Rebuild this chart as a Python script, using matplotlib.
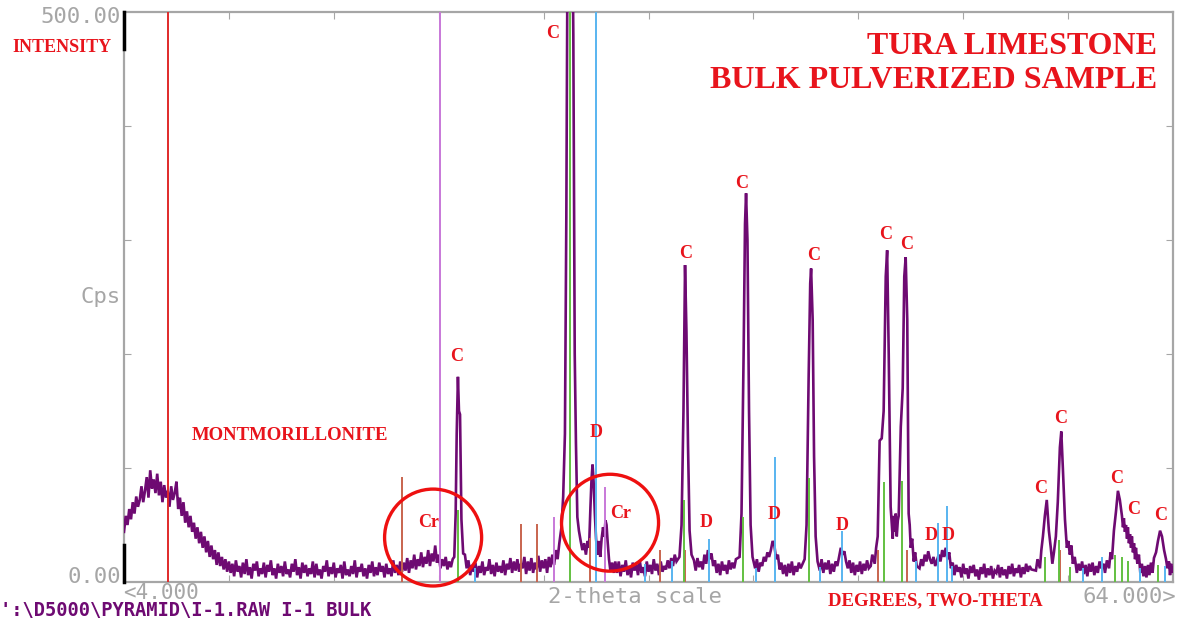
import numpy as np
import matplotlib
matplotlib.use("Agg")
import matplotlib.pyplot as plt
from matplotlib.patches import Ellipse

W, H = 1182, 621

# ---- measured trace (two-theta deg, cps) ----
# noisy background stretches, read every 0.1 deg
bg_a_start = 4.0
bg_a = [44, 58, 50, 64, 55, 70, 60, 75, 66, 72,
        84, 70, 80, 92, 74, 98, 82, 90, 78, 95,
        76, 88, 70, 85, 74, 80, 66, 84, 72, 78,
        88, 64, 74, 58, 70, 52, 62, 48, 58, 44,
        52, 38, 48, 34, 44, 30, 40, 26, 36, 22,
        32, 20, 28, 15, 26, 14, 22, 11, 20, 9,
        18, 8, 16, 5, 19, 9, 14, 4, 17, 7,
        20, 6, 13, 3, 16, 10, 18, 5, 12, 7,
        17, 4, 15, 9, 19, 6, 12, 3, 16, 8,
        14, 5, 18, 7, 11, 4, 16, 9, 20, 6,
        13, 3, 17, 8, 15, 5, 12, 7, 18, 4,
        16, 6, 11, 3, 14, 9, 19, 5, 13, 7,
        17, 4, 12, 8, 15, 3, 18, 6, 11, 5,
        14, 7, 19, 4, 13, 9, 16, 5, 12, 3,
        15, 8, 18, 5, 13, 6, 17, 9, 14, 4,
        16, 7, 12, 5, 19, 8, 15, 6, 18, 9,
        17, 10, 21, 8, 19, 12, 24, 11, 20, 14,
        26, 13, 22, 16, 28, 14, 25, 18, 32, 17,
        24, 12, 20, 14, 22, 11, 18, 13, 20]
bg_b_start = 23.5
bg_b = [24, 12, 19, 6, 15, 9, 17, 4, 14, 8,
        18, 6, 13, 10, 20, 7, 15, 5, 17, 9,
        14, 8, 19, 6, 16, 11, 21, 8, 18, 10,
        20, 9, 16, 12, 22, 7, 18, 10, 21, 8,
        17, 11, 23, 9, 19, 12, 20, 8, 22, 13,
        24, 15, 28, 20, 34]
bg_c_start = 32.2
bg_c = [8, 18, 5, 15, 9, 19, 6, 14, 4, 17,
        10, 16, 6, 19, 8, 13, 5, 18, 9, 15,
        7, 20, 10, 16, 6, 18, 9, 14, 11, 19,
        12, 21, 14, 24, 18]
bg_d_start = 36.6
bg_d = [19, 10, 21, 13, 18, 11, 24, 16, 28, 20, 25, 14, 19,
        8, 16, 6, 18, 10, 15, 7, 19, 11, 17, 12, 20]
bg_e_start = 40.1
bg_e = [12, 20, 9, 17, 14, 22, 18, 26, 22, 28, 36, 32, 20, 24,
        11, 17, 7, 15, 5, 16, 8, 18, 6, 14, 9, 17, 12]
bg_f_start = 43.8
bg_f = [10, 20, 8, 17, 11, 19, 7, 16, 9, 18, 14, 22, 30, 24, 27,
        18, 12, 19, 8, 17, 6, 15, 9, 18, 7, 16, 10, 19, 12]
bg_g_start = 49.5
bg_g = [12, 20, 14, 24, 18, 27, 20, 16, 22, 14,
        19, 24, 18, 28, 22, 30, 20, 26, 12, 17,
        6, 15, 9, 13, 4, 16, 7, 12, 3, 14,
        8, 15, 5, 11, 2, 13, 7, 16, 4, 12,
        6, 14, 3, 10, 8, 15, 4, 13, 6, 11,
        3, 14, 7, 16, 5, 12, 8, 15, 4, 13,
        7, 16, 9, 14, 11]
bg_h_start = 58.7
bg_h = [10, 18, 7, 15, 5, 16, 9, 17, 6, 14, 8, 18, 12]

# peak regions read point by point
pk_23_x = [22.89, 22.97, 23.03, 23.10, 23.16, 23.22, 23.30, 23.40]
pk_23_y = [22, 60, 130, 180, 150, 147, 55, 25]
pk_29_x = [29.02, 29.12, 29.22, 29.30, 29.38, 29.46, 29.53, 29.62, 29.70,
           29.78, 29.85, 29.93, 30.02, 30.12, 30.22, 30.32, 30.42, 30.52,
           30.60, 30.68, 30.74, 30.80, 30.86, 30.93, 31.00, 31.08, 31.16,
           31.24, 31.32, 31.40, 31.47, 31.54, 31.60, 31.66, 31.74, 31.82,
           31.92, 32.02, 32.10]
pk_29_y = [48, 75, 130, 320, 600, 640, 640, 620, 480,
           200, 122, 57, 45, 36, 28, 34, 24, 36,
           30, 66, 90, 103, 88, 60, 38, 24, 36,
           22, 38, 48, 40, 54, 50, 36, 20, 10,
           17, 8, 18]
pk_36_x = [35.77, 35.89, 36.00, 36.09, 36.17, 36.26, 36.35, 36.46]
pk_36_y = [22, 50, 150, 278, 220, 120, 45, 24]
pk_39_x = [39.21, 39.32, 39.44, 39.52, 39.58, 39.66, 39.75, 39.84, 39.95]
pk_39_y = [22, 60, 200, 314, 341, 300, 150, 50, 22]
pk_43_x = [42.93, 43.04, 43.16, 43.25, 43.30, 43.39, 43.47, 43.56, 43.67]
pk_43_y = [20, 50, 180, 262, 275, 230, 110, 40, 18]
pk_48_x = [46.71, 46.80, 46.94, 47.02, 47.11, 47.22, 47.34, 47.45, 47.57,
           47.65, 47.74, 47.85, 47.91, 47.97, 48.02, 48.08, 48.14, 48.20,
           48.26, 48.31, 48.43, 48.54, 48.63, 48.71, 48.80, 48.88, 48.94,
           49.00, 49.08, 49.17, 49.25, 49.34]
pk_48_y = [14, 24, 16, 30, 40, 124, 126, 150, 268,
           291, 200, 66, 52, 38, 58, 44, 60, 40,
           54, 58, 136, 170, 268, 285, 230, 60, 50,
           30, 38, 18, 26, 14]
pk_57_x = [56.16, 56.25, 56.39, 56.47, 56.56, 56.67, 56.78, 56.90, 57.01,
           57.10, 57.19, 57.30, 57.41, 57.53, 57.61, 57.70, 57.82, 57.93,
           58.01, 58.10, 58.19, 58.27, 58.38, 58.50, 58.60]
pk_57_y = [10, 20, 12, 28, 40, 58, 72, 45, 30,
           16, 26, 40, 70, 118, 132, 100, 55, 30,
           36, 24, 32, 16, 22, 8, 16]
pk_61_x = [60.03, 60.11, 60.22, 60.34, 60.43, 60.51, 60.62, 60.74, 60.85,
           60.96, 61.08, 61.14, 61.19, 61.25, 61.31, 61.37, 61.42, 61.48,
           61.54, 61.60, 61.65, 61.71, 61.77, 61.83, 61.88, 61.96, 62.05,
           62.13, 62.22, 62.31, 62.40, 62.48, 62.57, 62.65, 62.74, 62.83,
           62.91, 63.03, 63.14, 63.26, 63.37, 63.49, 63.60, 63.68, 63.77,
           63.83, 63.89, 63.95, 64.00]
pk_61_y = [16, 8, 19, 12, 26, 20, 45, 62, 80,
           72, 58, 48, 56, 44, 50, 38, 48, 34,
           42, 30, 40, 26, 34, 20, 30, 16, 24,
           8, 16, 5, 14, 4, 15, 6, 17, 8,
           21, 26, 36, 45, 40, 28, 20, 12, 18,
           6, 16, 8, 12]

# ---- reference stick patterns (position deg, height cps) ----
calcite_pos = [23.11, 29.52, 36.04, 39.41, 43.19, 47.48, 48.51, 56.69, 57.49,
               58.12, 60.69, 61.09, 61.44, 63.15]
calcite_h = [63, 600, 72, 57, 91, 88, 89, 22, 37, 13, 24, 22, 18, 15]
dolomite_pos = [24.08, 31.00, 33.80, 35.35, 37.47, 40.16, 41.24, 43.82, 45.08,
                49.31, 50.57, 51.08, 51.37, 58.86, 59.95, 62.12, 63.55]
dolomite_h = [12, 600, 16, 18, 38, 12, 110, 13, 45, 18, 52, 67, 14, 12, 22, 12, 14]
brown_pos = [19.90, 26.71, 27.63, 30.66, 34.66, 36.09, 47.14, 48.80, 57.55]
brown_h = [92, 51, 51, 39, 28, 28, 28, 28, 28]
pink_pos = [22.08, 28.60, 31.52]
pink_h = [600, 57, 83]
montm_pos = [6.52]
montm_h = [600]

c_label_x = [28.49, 23.05, 36.15, 39.30, 43.42, 47.59, 48.79, 56.40, 57.60, 60.80, 61.72, 63.27]
c_label_y = [481, 198, 288, 350, 286, 305, 296, 82, 143, 91, 64, 58]
d_label_x = [31.0, 37.30, 41.19, 45.08, 50.17, 51.14]
d_label_y = [131, 52, 59, 50, 41, 41]
cr_label_x = [21.45, 32.43]
cr_label_y = [52, 60]
circle_x = [21.68, 31.80]
circle_y = [39, 52]


def grid(start, vals):
    return [round(start + 0.1 * i, 2) for i in range(len(vals))]


xs, ys = [], []
for x, y in [(grid(bg_a_start, bg_a), bg_a), (pk_23_x, pk_23_y),
             (grid(bg_b_start, bg_b), bg_b), (pk_29_x, pk_29_y),
             (grid(bg_c_start, bg_c), bg_c), (pk_36_x, pk_36_y),
             (grid(bg_d_start, bg_d), bg_d), (pk_39_x, pk_39_y),
             (grid(bg_e_start, bg_e), bg_e), (pk_43_x, pk_43_y),
             (grid(bg_f_start, bg_f), bg_f), (pk_48_x, pk_48_y),
             (grid(bg_g_start, bg_g), bg_g), (pk_57_x, pk_57_y),
             (grid(bg_h_start, bg_h), bg_h), (pk_61_x, pk_61_y)]:
    xs += list(x)
    ys += list(y)

fig = plt.figure(figsize=(W / 100, H / 100), dpi=100)
fig.patch.set_facecolor("white")
ax = fig.add_axes([124 / W, 1 - 582 / H, (1173 - 124) / W, (582 - 12) / H])
ax.set_xlim(4, 64)
ax.set_ylim(0, 500)

ax.plot(xs, ys, color="#6e0a72", lw=1.9, solid_joinstyle="miter", zorder=3)

stick_sets = [(montm_pos, montm_h, "#e02a2a"), (pink_pos, pink_h, "#c878d8"),
              (brown_pos, brown_h, "#c8644e"), (calcite_pos, calcite_h, "#62c040"),
              (dolomite_pos, dolomite_h, "#58b4f0")]
for pos, h, col in stick_sets:
    ax.vlines(pos, 0, h, colors=col, lw=1.4, zorder=4)

gray = "#a6a6a6"
for s in ax.spines.values():
    s.set_color(gray)
    s.set_linewidth(1.6)
ax.set_xticks(np.arange(10, 60, 6))
ax.set_yticks([100, 200, 300, 400])
ax.tick_params(direction="in", length=5, color=gray, top=True, right=True,
               labelbottom=False, labelleft=False)
ax.plot([0, 0], [0.935, 1.0], transform=ax.transAxes, color="black", lw=2.5, clip_on=False, zorder=5)
ax.plot([0, 0], [0.0, 0.065], transform=ax.transAxes, color="black", lw=2.5, clip_on=False, zorder=5)

red = "#e8141c"
lab = dict(color=red, fontfamily="Liberation Serif", fontweight="bold", ha="center", va="center", zorder=6)
for x, y in zip(c_label_x, c_label_y):
    ax.text(x, y, "C", fontsize=13, **lab)
for x, y in zip(d_label_x, d_label_y):
    ax.text(x, y, "D", fontsize=13, **lab)
for x, y in zip(cr_label_x, cr_label_y):
    ax.text(x, y, "Cr", fontsize=13, **lab)
for x, y in zip(circle_x, circle_y):
    ax.add_patch(Ellipse((x, y), 5.55, 85, fill=False, ec="#ee1010", lw=2.4,
                         clip_on=False, zorder=7))


def ftext(px, py, s, **kw):
    fig.text(px / W, 1 - py / H, s, **kw)


mono = dict(color=gray, fontfamily="DejaVu Sans Mono", fontsize=16, va="center")
ftext(121, 17, "500.00", ha="right", **mono)
ftext(121, 577, "0.00", ha="right", **mono)
ftext(121, 297, "Cps", ha="right", **mono)
ftext(548, 597, "2-theta scale", ha="left", **mono)
ftext(1176, 597, "64.000>", ha="right", **mono)
ftext(123, 599, "<4.000", ha="left", va="baseline", color=gray,
      fontfamily="DejaVu Sans Mono", fontsize=15)
ftext(0, 616, "':\\D5000\\PYRAMID\\I-1.RAW I-1 BULK", ha="left", va="baseline",
      color="#6e0a72", fontfamily="DejaVu Sans Mono", fontsize=13.5, fontweight="bold")

serif = dict(color=red, fontfamily="Liberation Serif", fontweight="bold", va="center")
ftext(12, 48, "INTENSITY", ha="left", fontsize=13, **serif)
ftext(192, 435, "MONTMORILLONITE", ha="left", fontsize=13.5, **serif)
ftext(828, 601, "DEGREES, TWO-THETA", ha="left", fontsize=13.5, **serif)
ftext(1157, 47, "TURA LIMESTONE", ha="right", fontsize=23, **serif)
ftext(1157, 81, "BULK PULVERIZED SAMPLE", ha="right", fontsize=23, **serif)

fig.savefig("out.png", dpi=100)
